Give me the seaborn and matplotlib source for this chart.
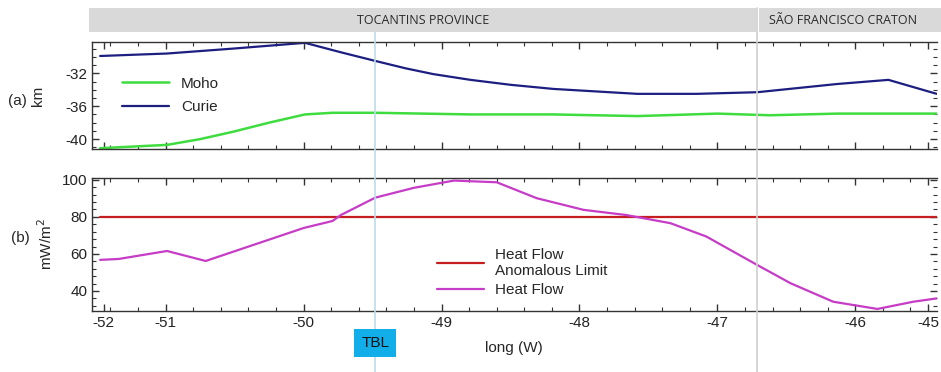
import numpy as np
import pandas as pd
import matplotlib
matplotlib.use("Agg")
import matplotlib.pyplot as plt
import matplotlib.transforms as mtransforms
from matplotlib.lines import Line2D
from matplotlib.patches import Rectangle
from matplotlib.ticker import MultipleLocator, FixedLocator, FixedFormatter
import seaborn as sns

# ---------------- data ----------------
moho_lon = [-51.475, -50.99, -50.75, -50.51, -50.25, -49.99, -49.79, -49.48, -48.79, -48.19, -47.58, -47.0, -46.62, -46.13, -45.41]
moho_depth = [-41.1, -40.7, -40.0, -39.1, -38.0, -37.0, -36.8, -36.8, -37.0, -37.0, -37.2, -36.9, -37.1, -36.9, -36.9]

curie_lon = [-51.475, -50.99, -50.51, -49.99, -49.73, -49.48, -49.26, -49.06, -48.79, -48.5, -48.19, -47.58, -47.15, -46.71, -46.13, -45.76, -45.41]
curie_depth = [-29.9, -29.6, -29.0, -28.3, -29.45, -30.5, -31.4, -32.1, -32.8, -33.4, -33.9, -34.5, -34.5, -34.3, -33.3, -32.8, -34.5]

hf_lon = [-51.475, -51.34, -50.99, -50.71, -50.0, -49.79, -49.73, -49.48, -49.2, -49.0, -48.91,
          -48.6, -48.31, -47.97, -47.66, -47.34, -47.08, -46.71, -46.47, -46.16, -45.84, -45.58, -45.41]
hf_value = [56.8, 57.3, 61.6, 56.2, 74.0, 77.8, 81.0, 90.4, 95.7, 98.4, 99.6,
            98.7, 90.1, 83.8, 81.0, 76.6, 69.4, 54.0, 44.2, 34.2, 30.3, 34.2, 36.0]

limit_lon = [-51.475, -45.41]
limit_value = [80, 80]

x_tick_pos = [-51.45, -51, -50, -49, -48, -47, -46, -45.47]
x_tick_labels = ["-52", "-51", "-50", "-49", "-48", "-47", "-46", "-45"]

tbl_lon = -49.48
boundary_lon = -46.71
regions = ["TOCANTINS PROVINCE", "SÃO FRANCISCO CRATON"]

# ---------------- style ----------------
sns.set_style("ticks")
plt.rcParams["font.family"] = ["Liberation Sans", "DejaVu Sans"]
plt.rcParams["font.size"] = 10.5
plt.rcParams["axes.unicode_minus"] = False

W, H = 941, 372
fig = plt.figure(figsize=(W / 100, H / 100), dpi=100)

def fx(px):
    return px / W

def fy(py):
    return 1 - py / H

ax1 = fig.add_axes([fx(92), fy(149), fx(936.7 - 92), (149 - 42) / H])
ax2 = fig.add_axes([fx(92), fy(311), fx(936.7 - 92), (311 - 178) / H])

xlim = (-51.534, -45.41)

# ----- top panel -----
df_moho = pd.DataFrame({"lon": moho_lon, "depth": moho_depth})
df_curie = pd.DataFrame({"lon": curie_lon, "depth": curie_depth})
sns.lineplot(data=df_moho, x="lon", y="depth", ax=ax1, color="#3fdc3f", lw=1.8,
             label="Moho", sort=False, estimator=None)
sns.lineplot(data=df_curie, x="lon", y="depth", ax=ax1, color="#1c1f80", lw=1.6,
             label="Curie", sort=False, estimator=None)
ax1.set_xlim(*xlim)
ax1.set_ylim(-41.2, -28.2)
ax1.set_yticks([-40, -36, -32])
ax1.yaxis.set_minor_locator(MultipleLocator(1))
ax1.set_xticks(x_tick_pos)
ax1.xaxis.set_minor_locator(MultipleLocator(0.2))
ax1.tick_params(axis="x", labelbottom=False)
ax1.set_xlabel("")
ax1.set_ylabel("km", fontsize=11)
ax1.yaxis.set_label_coords(-0.056, 0.5)
ax1.legend(loc="upper left", bbox_to_anchor=(0.0355, 0.675), frameon=False,
           handlelength=3.1, handletextpad=0.75, labelspacing=0.62,
           borderpad=0, borderaxespad=0, fontsize=11)
ax1.text(-0.088, 0.45, "(a)", transform=ax1.transAxes, ha="center", va="center", fontsize=11)

# ----- bottom panel -----
df_hf = pd.DataFrame({"lon": hf_lon, "hf": hf_value})
df_lim = pd.DataFrame({"lon": limit_lon, "hf": limit_value})
sns.lineplot(data=df_lim, x="lon", y="hf", ax=ax2, color="#c41e1e", lw=1.6,
             label="Heat Flow\nAnomalous Limit", sort=False, estimator=None)
sns.lineplot(data=df_hf, x="lon", y="hf", ax=ax2, color="#c63cc6", lw=1.6,
             label="Heat Flow", sort=False, estimator=None)
ax2.set_xlim(*xlim)
ax2.set_ylim(29.2, 101)
ax2.set_yticks([40, 60, 80, 100])
ax2.yaxis.set_minor_locator(MultipleLocator(4))
ax2.xaxis.set_major_locator(FixedLocator(x_tick_pos))
ax2.xaxis.set_major_formatter(FixedFormatter(x_tick_labels))
ax2.xaxis.set_minor_locator(MultipleLocator(0.2))
ax2.set_xlabel("long (W)", fontsize=11, labelpad=8)
ax2.set_ylabel("mW/m$^2$", fontsize=11)
ax2.yaxis.set_label_coords(-0.044, 0.5)
ax2.legend(loc="upper left", bbox_to_anchor=(0.408, 0.475), frameon=False,
           handlelength=3.1, handletextpad=0.75, labelspacing=0.35,
           borderpad=0, borderaxespad=0, fontsize=11)
ax2.text(-0.085, 0.55, "(b)", transform=ax2.transAxes, ha="center", va="center", fontsize=11)

for ax in (ax1, ax2):
    for s in ("top", "bottom", "left"):
        ax.spines[s].set_visible(True)
        ax.spines[s].set_color("#333333")
        ax.spines[s].set_linewidth(1.0)
    ax.spines["right"].set_visible(False)
    ax.tick_params(which="both", direction="in", top=True, right=True, bottom=True, left=True,
                   colors="#333333", labelcolor="#222222", labelsize=11)
    ax.tick_params(which="major", length=5, width=1)
    ax.tick_params(which="minor", length=3, width=0.8)
    ax.set_facecolor("white")

# ----- vertical lines across figure -----
trans = mtransforms.blended_transform_factory(ax2.transData, fig.transFigure)
fig.add_artist(Line2D([tbl_lon, tbl_lon], [0, fy(32)], transform=trans,
                      color="#bcdde8", lw=1.2, zorder=0.5))
fig.add_artist(Line2D([boundary_lon, boundary_lon], [0, fy(8)], transform=trans,
                      color="#d0d0d0", lw=1.2, zorder=0.5))

# ----- region band -----
band_y0, band_y1 = fy(32), fy(8)
bx_left = fx(89)
bnd_fig = fig.transFigure.inverted().transform(ax2.transData.transform((boundary_lon, 0)))[0]
fig.add_artist(Rectangle((bx_left, band_y0), bnd_fig - 0.0012 - bx_left, band_y1 - band_y0,
                         transform=fig.transFigure, facecolor="#d9d9d9", edgecolor="none", zorder=0))
fig.add_artist(Rectangle((bnd_fig + 0.0012, band_y0), 1 - bnd_fig, band_y1 - band_y0,
                         transform=fig.transFigure, facecolor="#d9d9d9", edgecolor="none", zorder=0))
fig.text(fx(423), (band_y0 + band_y1) / 2, regions[0], ha="center", va="center",
         fontsize=9, family=["Open Sans", "DejaVu Sans"], color="#2a2a2a")
fig.text(fx(843), (band_y0 + band_y1) / 2, regions[1], ha="center", va="center",
         fontsize=9, family=["Open Sans", "DejaVu Sans"], color="#2a2a2a")

# ----- TBL label -----
fig.text(tbl_lon, fy(343), "TBL", transform=trans, ha="center", va="center", fontsize=11,
         color="#111111",
         bbox=dict(boxstyle="square,pad=0.45", facecolor="#12aeea", edgecolor="none"))

fig.savefig("out.png", dpi=100)
